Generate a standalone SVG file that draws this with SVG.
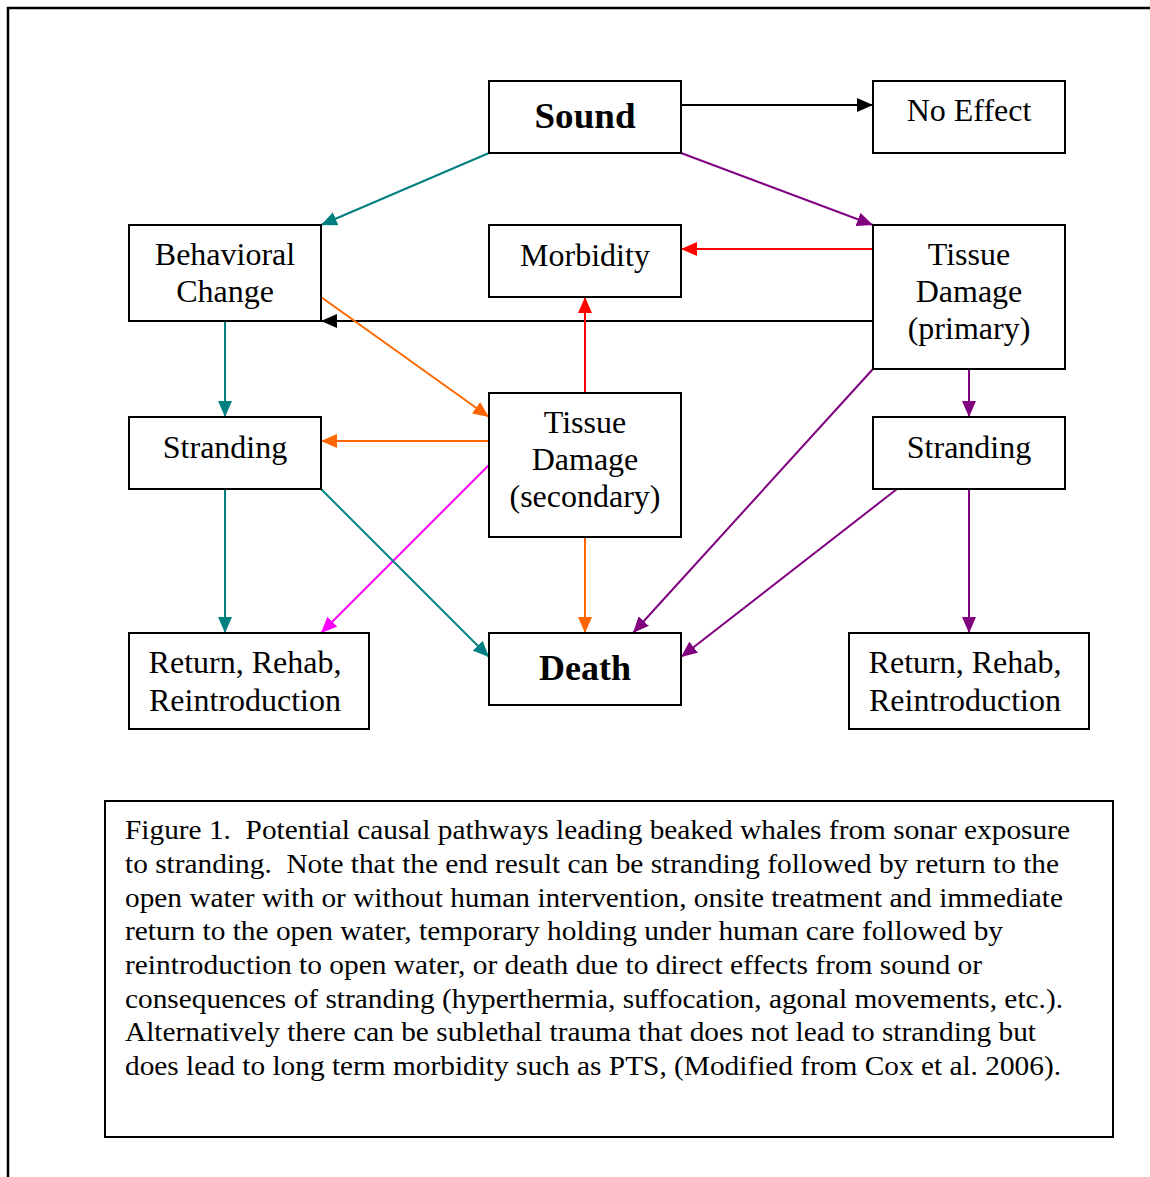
<svg xmlns="http://www.w3.org/2000/svg" width="1150" height="1177" viewBox="0 0 1150 1177">
<style>
.box{fill:#fff;stroke:#000;stroke-width:2}
.t{font-family:"Liberation Serif","Times New Roman",serif;font-size:32px;fill:#000;text-anchor:middle}
.b{font-weight:bold;font-size:36px}
.cap{font-family:"Liberation Serif","Times New Roman",serif;font-size:28px;fill:#000}
.c{fill:none;stroke-width:2}
</style>
<defs>
<marker id="mk" viewBox="0 0 16 14" refX="16" refY="7" markerWidth="16" markerHeight="14" markerUnits="userSpaceOnUse" orient="auto"><path d="M0,0L16,7L0,14z" fill="#000"/></marker>
<marker id="mt" viewBox="0 0 16 14" refX="16" refY="7" markerWidth="16" markerHeight="14" markerUnits="userSpaceOnUse" orient="auto"><path d="M0,0L16,7L0,14z" fill="#008080"/></marker>
<marker id="mp" viewBox="0 0 16 14" refX="16" refY="7" markerWidth="16" markerHeight="14" markerUnits="userSpaceOnUse" orient="auto"><path d="M0,0L16,7L0,14z" fill="#800080"/></marker>
<marker id="mr" viewBox="0 0 16 14" refX="16" refY="7" markerWidth="16" markerHeight="14" markerUnits="userSpaceOnUse" orient="auto"><path d="M0,0L16,7L0,14z" fill="#FF0000"/></marker>
<marker id="mo" viewBox="0 0 16 14" refX="16" refY="7" markerWidth="16" markerHeight="14" markerUnits="userSpaceOnUse" orient="auto"><path d="M0,0L16,7L0,14z" fill="#FF6600"/></marker>
<marker id="mm" viewBox="0 0 16 14" refX="16" refY="7" markerWidth="16" markerHeight="14" markerUnits="userSpaceOnUse" orient="auto"><path d="M0,0L16,7L0,14z" fill="#FF00FF"/></marker>
</defs>
<rect width="1150" height="1177" fill="#fff"/>
<path d="M8,1177V8H1150" fill="none" stroke="#000" stroke-width="2.5"/>

<g id="connectors">
<line class="c" stroke="#000" x1="681" y1="105" x2="873" y2="105" marker-end="url(#mk)"/>
<line class="c" stroke="#008080" x1="489" y1="153" x2="321" y2="225" marker-end="url(#mt)"/>
<line class="c" stroke="#800080" x1="681" y1="153" x2="873" y2="225" marker-end="url(#mp)"/>
<line class="c" stroke="#FF0000" x1="873" y1="249" x2="681" y2="249" marker-end="url(#mr)"/>
<line class="c" stroke="#000" x1="873" y1="321" x2="321" y2="321" marker-end="url(#mk)"/>
<line class="c" stroke="#008080" x1="225" y1="321" x2="225" y2="417" marker-end="url(#mt)"/>
<line class="c" stroke="#FF6600" x1="321" y1="297" x2="489" y2="417" marker-end="url(#mo)"/>
<line class="c" stroke="#FF0000" x1="585" y1="393" x2="585" y2="297" marker-end="url(#mr)"/>
<line class="c" stroke="#FF6600" x1="489" y1="441" x2="321" y2="441" marker-end="url(#mo)"/>
<line class="c" stroke="#FF00FF" x1="489" y1="465" x2="321" y2="633" marker-end="url(#mm)"/>
<line class="c" stroke="#FF6600" x1="585" y1="537" x2="585" y2="633" marker-end="url(#mo)"/>
<line class="c" stroke="#008080" x1="225" y1="489" x2="225" y2="633" marker-end="url(#mt)"/>
<line class="c" stroke="#008080" x1="321" y1="489" x2="489" y2="657" marker-end="url(#mt)"/>
<line class="c" stroke="#800080" x1="873" y1="369" x2="633" y2="633" marker-end="url(#mp)"/>
<line class="c" stroke="#800080" x1="897" y1="489" x2="681" y2="657" marker-end="url(#mp)"/>
<line class="c" stroke="#800080" x1="969" y1="369" x2="969" y2="417" marker-end="url(#mp)"/>
<line class="c" stroke="#800080" x1="969" y1="489" x2="969" y2="633" marker-end="url(#mp)"/>
</g>

<g id="sound"><rect class="box" x="489" y="81" width="192" height="72"/><text class="t b" x="585" y="128" textLength="101" lengthAdjust="spacingAndGlyphs">Sound</text></g>
<g id="noeffect"><rect class="box" x="873" y="81" width="192" height="72"/><text class="t" x="969" y="121">No Effect</text></g>
<g id="behavioral"><rect class="box" x="129" y="225" width="192" height="96"/><text class="t" x="225" y="265">Behavioral</text><text class="t" x="225" y="302">Change</text></g>
<g id="morbidity"><rect class="box" x="489" y="225" width="192" height="72"/><text class="t" x="585" y="266">Morbidity</text></g>
<g id="tissue-primary"><rect class="box" x="873" y="225" width="192" height="144"/><text class="t" x="969" y="265">Tissue</text><text class="t" x="969" y="302">Damage</text><text class="t" x="969" y="339">(primary)</text></g>
<g id="stranding-left"><rect class="box" x="129" y="417" width="192" height="72"/><text class="t" x="225" y="458">Stranding</text></g>
<g id="tissue-secondary"><rect class="box" x="489" y="393" width="192" height="144"/><text class="t" x="585" y="433">Tissue</text><text class="t" x="585" y="470">Damage</text><text class="t" x="585" y="507">(secondary)</text></g>
<g id="stranding-right"><rect class="box" x="873" y="417" width="192" height="72"/><text class="t" x="969" y="458">Stranding</text></g>
<g id="return-left"><rect class="box" x="129" y="633" width="240" height="96"/><text class="t" x="245" y="673">Return, Rehab,</text><text class="t" x="245" y="711">Reintroduction</text></g>
<g id="death"><rect class="box" x="489" y="633" width="192" height="72"/><text class="t b" x="585" y="680">Death</text></g>
<g id="return-right"><rect class="box" x="849" y="633" width="240" height="96"/><text class="t" x="965" y="673">Return, Rehab,</text><text class="t" x="965" y="711">Reintroduction</text></g>

<g id="caption">
<rect class="box" x="105" y="801" width="1008" height="336"/>
<text class="cap" x="125" y="839" textLength="945" lengthAdjust="spacingAndGlyphs" xml:space="preserve">Figure 1.  Potential causal pathways leading beaked whales from sonar exposure</text>
<text class="cap" x="125" y="873" textLength="934" lengthAdjust="spacingAndGlyphs" xml:space="preserve">to stranding.  Note that the end result can be stranding followed by return to the</text>
<text class="cap" x="125" y="907" textLength="938" lengthAdjust="spacingAndGlyphs">open water with or without human intervention, onsite treatment and immediate</text>
<text class="cap" x="125" y="940" textLength="878" lengthAdjust="spacingAndGlyphs">return to the open water, temporary holding under human care followed by</text>
<text class="cap" x="125" y="974" textLength="857" lengthAdjust="spacingAndGlyphs">reintroduction to open water, or death due to direct effects from sound or</text>
<text class="cap" x="125" y="1008" textLength="938" lengthAdjust="spacingAndGlyphs">consequences of stranding (hyperthermia, suffocation, agonal movements, etc.).</text>
<text class="cap" x="125" y="1041" textLength="911" lengthAdjust="spacingAndGlyphs">Alternatively there can be sublethal trauma that does not lead to stranding but</text>
<text class="cap" x="125" y="1075" textLength="936" lengthAdjust="spacingAndGlyphs">does lead to long term morbidity such as PTS, (Modified from Cox et al. 2006).</text>
</g>
</svg>
